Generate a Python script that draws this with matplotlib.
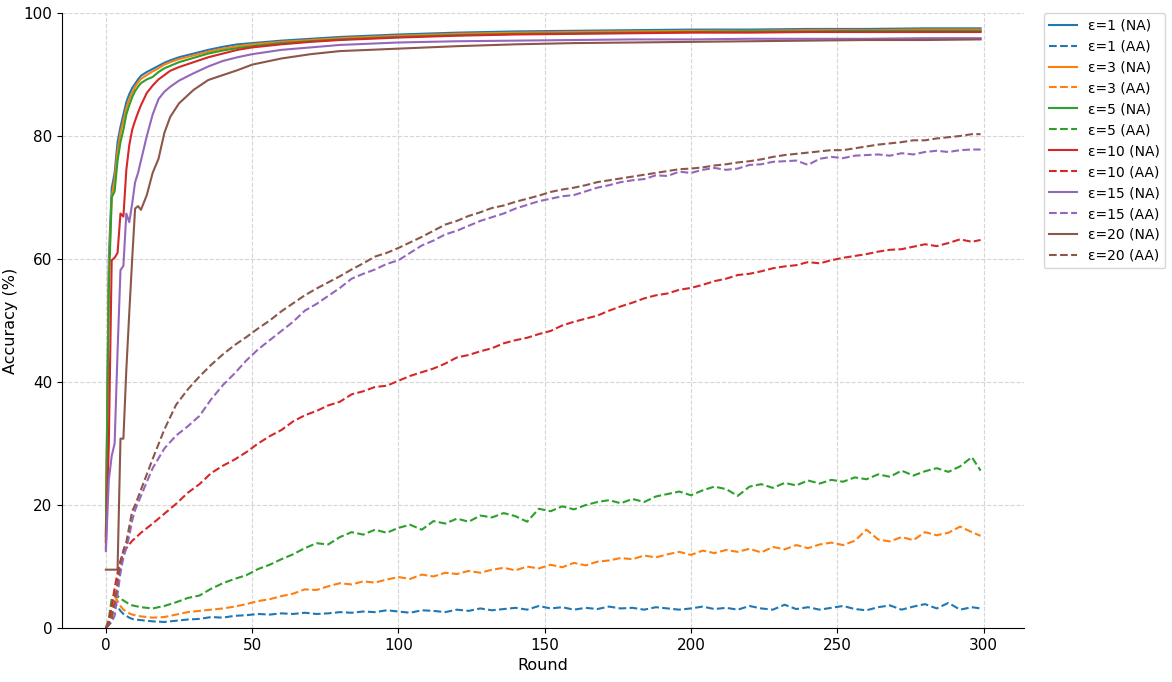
import numpy as np
import matplotlib.pyplot as plt

# privacy budgets and series labels
epsilons = [1, 3, 5, 10, 15, 20]
colors = ['#1f77b4', '#ff7f0e', '#2ca02c', '#d62728', '#9467bd', '#8c564b']

# rounds where the NA (natural accuracy) curves were read
na_rounds = [0, 1, 2, 3, 4, 5, 6, 7, 8, 9, 10, 11, 12, 14, 16, 18, 20, 22, 25,
             30, 35, 40, 45, 50, 60, 70, 80, 90, 100,
             120, 140, 160, 180, 200, 220, 240, 260, 280, 299]

na_eps1 = [14, 60, 71.5, 74, 79, 81.5, 83.5, 85.5, 86.8, 87.8, 88.5, 89.2, 89.8,
           90.4, 90.9, 91.4, 91.9, 92.3, 92.8, 93.4, 94.0, 94.5, 94.9, 95.1,
           95.5, 95.8, 96.1, 96.3, 96.5, 96.8, 97.0, 97.1, 97.2, 97.3, 97.3,
           97.4, 97.4, 97.5, 97.5]
na_eps3 = [14, 58, 70, 73, 77.5, 80.5, 82.5, 84.5, 86, 87, 88, 88.7, 89.3,
           89.9, 90.5, 91.0, 91.6, 92.0, 92.5, 93.1, 93.7, 94.2, 94.6, 94.9,
           95.3, 95.6, 95.9, 96.1, 96.3, 96.6, 96.8, 96.9, 97.0, 97.1, 97.1,
           97.2, 97.2, 97.3, 97.3]
na_eps5 = [15, 55, 70, 71, 76, 79, 81, 83.5, 85, 86.3, 87.3, 88.0, 88.6,
           89.2, 89.6, 90.4, 91.0, 91.4, 92.0, 92.7, 93.4, 93.9, 94.3, 94.6,
           95.1, 95.4, 95.7, 95.9, 96.1, 96.4, 96.6, 96.7, 96.8, 96.9, 97.0,
           97.0, 97.1, 97.1, 97.1]
na_eps10 = [13, 29.5, 59.8, 60.2, 61, 67.4, 66.9, 74.5, 78.5, 81, 82.5, 83.8, 85,
            87, 88.2, 89.2, 89.9, 90.6, 91.2, 92.0, 92.8, 93.4, 94.0, 94.4,
            94.9, 95.3, 95.6, 95.8, 96.0, 96.3, 96.5, 96.6, 96.7, 96.8, 96.8,
            96.9, 96.9, 96.9, 96.9]
na_eps15 = [12.5, 24, 28, 30, 45, 58.2, 58.9, 67.4, 66, 69, 72.5, 74, 76,
            80, 83.5, 86, 87.2, 88, 89.0, 90.2, 91.3, 92.2, 92.8, 93.3,
            94.0, 94.4, 94.8, 95.0, 95.2, 95.4, 95.5, 95.6, 95.7, 95.7, 95.8,
            95.8, 95.8, 95.9, 95.9]
na_eps20 = [9.5, 9.5, 9.5, 9.5, 9.5, 30.8, 30.8, 42, 51.2, 60, 68.2, 68.6, 68.0,
            70.4, 74, 76.3, 80.5, 83.1, 85.3, 87.5, 89.1, 89.9, 90.7, 91.6,
            92.6, 93.3, 93.8, 94.0, 94.2, 94.6, 94.9, 95.1, 95.2, 95.3, 95.4,
            95.5, 95.6, 95.6, 95.7]

# rounds where the AA (adversarial accuracy) curves were read
aa_rounds = list(range(11)) + list(range(12, 297, 4)) + [299]

aa_eps1 = [0.0, 0.6, 2.6, 4.0, 3.5, 2.8, 2.3, 2.0, 1.7, 1.5, 1.4,
           1.3, 1.1, 1.0, 1.2, 1.4, 1.5, 1.8, 1.7, 2.0, 2.1,
           2.3, 2.2, 2.4, 2.3, 2.5, 2.3, 2.4, 2.6, 2.5, 2.7,
           2.6, 2.9, 2.7, 2.5, 2.9, 2.8, 2.6, 3.0, 2.8, 3.2,
           2.9, 3.1, 3.3, 3.0, 3.6, 3.2, 3.4, 3.0, 3.3, 3.1,
           3.5, 3.2, 3.3, 3.0, 3.4, 3.2, 3.0, 3.2, 3.5, 3.1,
           3.3, 3.0, 3.6, 3.2, 3.0, 3.8, 3.1, 3.4, 3.0, 3.3,
           3.6, 3.1, 2.9, 3.4, 3.7, 3.0, 3.5, 3.9, 3.2, 4.1,
           3.0, 3.4, 3.2]
aa_eps3 = [0.0, 1.0, 3.5, 5.2, 4.4, 3.6, 3.0, 2.7, 2.4, 2.2, 2.1,
           1.9, 1.7, 1.8, 2.2, 2.6, 2.8, 3.0, 3.2, 3.5, 3.9,
           4.4, 4.7, 5.2, 5.6, 6.3, 6.2, 6.8, 7.3, 7.1, 7.6,
           7.4, 7.9, 8.3, 8.0, 8.7, 8.4, 9.0, 8.8, 9.3, 9.0,
           9.5, 9.8, 9.4, 10.0, 9.7, 10.3, 9.9, 10.6, 10.2, 10.8,
           11.0, 11.4, 11.2, 11.8, 11.5, 12.0, 12.4, 11.9, 12.6, 12.2,
           12.7, 12.4, 12.9, 12.3, 13.2, 12.8, 13.5, 13.0, 13.6, 13.9,
           13.5, 14.2, 16.0, 14.4, 14.1, 14.8, 14.3, 15.6, 15.1, 15.5,
           16.5, 15.6, 15.0]
aa_eps5 = [0.0, 1.5, 4.8, 5.5, 5.2, 4.8, 4.5, 4.2, 3.9, 3.7, 3.6,
           3.4, 3.2, 3.6, 4.2, 4.9, 5.3, 6.4, 7.3, 8.0, 8.6,
           9.6, 10.3, 11.2, 12.0, 13.0, 13.8, 13.6, 14.8, 15.6, 15.2,
           16.0, 15.5, 16.3, 16.8, 16.0, 17.4, 17.0, 17.8, 17.3, 18.3,
           18.0, 18.7, 18.2, 17.3, 19.4, 19.0, 19.8, 19.3, 20.0, 20.5,
           20.8, 20.3, 21.0, 20.5, 21.4, 21.8, 22.2, 21.6, 22.4, 23.0,
           22.6, 21.5, 23.0, 23.4, 22.8, 23.6, 23.2, 24.0, 23.5, 24.1,
           23.8, 24.5, 24.2, 25.0, 24.6, 25.6, 24.8, 25.5, 26.0, 25.4,
           26.3, 27.8, 25.6]
aa_eps10 = [0.0, 1.0, 3.5, 6.5, 9.0, 11.0, 12.3, 13.0, 13.6, 14.2, 14.6,
            15.5, 17.0, 18.6, 20.2, 22.0, 23.4, 25.2, 26.4, 27.4, 28.6,
            30.0, 31.2, 32.2, 33.6, 34.6, 35.3, 36.2, 36.8, 38.0, 38.5,
            39.2, 39.4, 40.2, 41.0, 41.6, 42.2, 43.0, 44.0, 44.4, 45.0,
            45.5, 46.3, 46.8, 47.2, 47.8, 48.3, 49.2, 49.8, 50.3, 50.8,
            51.6, 52.3, 52.9, 53.6, 54.1, 54.4, 55.0, 55.3, 55.8, 56.4,
            56.8, 57.4, 57.6, 58.0, 58.5, 58.8, 59.0, 59.5, 59.3, 59.8,
            60.2, 60.5, 60.8, 61.2, 61.5, 61.6, 62.0, 62.4, 62.1, 62.6,
            63.2, 62.8, 63.1]
aa_eps15 = [0.0, 0.5, 1.0, 2.0, 5.5, 9.0, 11.5, 13.0, 15.0, 17.5, 19.2,
            21.5, 26.0, 29.2, 31.3, 32.8, 34.5, 37.2, 39.5, 41.4, 43.5,
            45.3, 46.8, 48.3, 49.8, 51.6, 52.7, 54.0, 55.3, 56.8, 57.6,
            58.3, 59.2, 59.8, 61.0, 62.2, 63.0, 64.0, 64.6, 65.4, 66.2,
            66.8, 67.4, 68.2, 68.8, 69.4, 69.8, 70.2, 70.4, 71.0, 71.6,
            72.0, 72.5, 72.8, 73.0, 73.6, 73.5, 74.2, 74.0, 74.5, 74.8,
            74.5, 74.7, 75.3, 75.4, 75.8, 75.9, 76.0, 75.3, 76.3, 76.6,
            76.4, 76.8, 76.9, 77.0, 76.8, 77.2, 77.0, 77.4, 77.6, 77.4,
            77.7, 77.8, 77.8]
aa_eps20 = [0.0, 0.5, 1.5, 4.0, 7.5, 10.5, 12.7, 14.0, 16.5, 19.0, 20.0,
            22.5, 27.5, 32.3, 36.3, 38.8, 40.9, 42.8, 44.5, 46.0, 47.3,
            48.7, 50.0, 51.5, 52.8, 54.1, 55.2, 56.2, 57.2, 58.3, 59.3,
            60.4, 61.0, 61.8, 62.7, 63.6, 64.6, 65.6, 66.2, 67.0, 67.6,
            68.3, 68.7, 69.3, 69.8, 70.3, 70.9, 71.3, 71.6, 72.0, 72.5,
            72.8, 73.1, 73.4, 73.7, 74.0, 74.3, 74.6, 74.7, 74.9, 75.2,
            75.4, 75.7, 75.9, 76.2, 76.6, 76.9, 77.1, 77.3, 77.5, 77.7,
            77.7, 78.0, 78.3, 78.6, 78.8, 79.0, 79.3, 79.3, 79.6, 79.8,
            80.0, 80.3, 80.3]

na_series = [na_eps1, na_eps3, na_eps5, na_eps10, na_eps15, na_eps20]
aa_series = [aa_eps1, aa_eps3, aa_eps5, aa_eps10, aa_eps15, aa_eps20]

fig = plt.figure(figsize=(11.72, 6.82), dpi=100)
ax = fig.add_subplot(111)
fig.subplots_adjust(left=0.053, right=0.874, bottom=0.079, top=0.981)

for eps, c, na, aa in zip(epsilons, colors, na_series, aa_series):
    ax.plot(na_rounds, na, color=c, linestyle='-', linewidth=1.5,
            label='ε=%d (NA)' % eps)
    ax.plot(aa_rounds, aa, color=c, linestyle='--', linewidth=1.5,
            label='ε=%d (AA)' % eps)

ax.set_ylim(0, 100)
ax.set_xlabel('Round', fontsize=11.5)
ax.set_ylabel('Accuracy (%)', fontsize=11.5)
ax.tick_params(labelsize=11)
ax.grid(True, linestyle='--', color='#cccccc', alpha=0.8, linewidth=0.8)
ax.spines['top'].set_visible(False)
ax.spines['right'].set_visible(False)
ax.legend(loc='upper left', bbox_to_anchor=(1.02, 1.0), borderaxespad=0,
          fontsize=10)

plt.savefig('out.png', dpi=100)
